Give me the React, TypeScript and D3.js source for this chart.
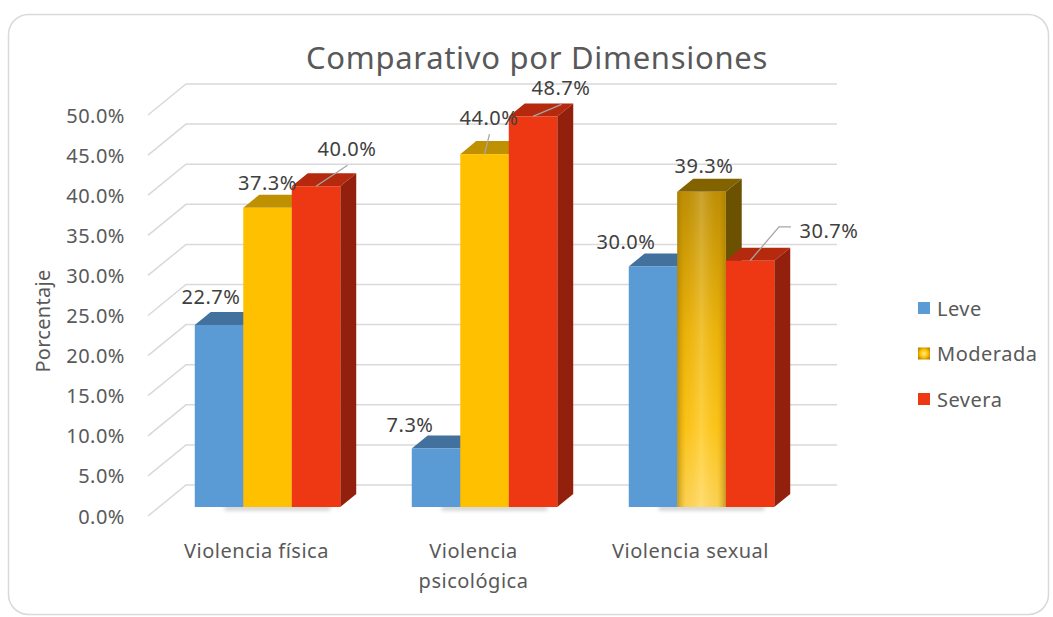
import React from "react";
import * as d3 from "d3";

const categories = ["Violencia física", "Violencia psicológica", "Violencia sexual"];
const categoryLines = [["Violencia física"], ["Violencia", "psicológica"], ["Violencia sexual"]];
const seriesNames = ["Leve", "Moderada", "Severa"];
const leve = [22.7, 7.3, 30.0];
const moderada = [37.3, 44.0, 39.3];
const severa = [40.0, 48.7, 30.7];
const yTicks = [0, 5, 10, 15, 20, 25, 30, 35, 40, 45, 50];

// label placement offsets relative to bar top (layout only)
const leveOffsets = [[-8, -28], [-26, -24], [-27, -25]];
const moderadaOffsets = [[0, -25], [4.5, -37], [2.5, -26]];
const severaOffsets = [[31, -38], [28, -29], [79, -30]];
const leveLeaders = [false, false, false];
const moderadaLeaders = [false, true, false];
const severaLeaders = [true, true, true];

const W = 1053;
const H = 617;
const DX = 38;
const DY = 31;
const Z0 = 0.29;
const Z1 = 0.71;
const BW = 48.5;
const FONT = "'Noto Sans', 'Open Sans', sans-serif";
const TEXT = "#595959";
const FS = 20;
const LS = 0.5;

const seriesStyles = [
  { front: "#5B9BD5", top: "#41719C", side: "#3A6690" },
  { front: "#FFC000", top: "#BF9000", side: "#A67D00" },
  { front: "#EE3814", top: "#B52A0F", side: "#93200C" },
];

export default function App() {
  const x = d3.scaleBand<string>().domain(categories).range([148, 799]).padding(0);
  const y = d3.scaleLinear().domain([0, 50]).range([516, 115]);
  const P = (px: number, v: number, z: number): [number, number] => [px + z * DX, y(v) - z * DY];
  const pts = (arr: [number, number][]) => arr.map((p) => p.join(",")).join(" ");

  const seriesData = [leve, moderada, severa];
  const offsets = [leveOffsets, moderadaOffsets, severaOffsets];
  const leaders = [leveLeaders, moderadaLeaders, severaLeaders];

  const bars: any[] = [];
  const labels: any[] = [];
  const shadows: any[] = [];

  categories.forEach((c, ci) => {
    const gx = (x(c) as number) + x.bandwidth() / 2 - 1.5 * BW;
    const sl = P(gx, 0, Z0);
    shadows.push(
      <rect key={"sh" + ci} x={sl[0] + 30} y={sl[1] - 1} width={BW * 3 - 40} height={4}
        fill="#7f7f7f" opacity={0.45} filter="url(#blur)" />
    );
    seriesData.forEach((vals, si) => {
      const v = vals[ci];
      const x0 = gx + si * BW;
      const st = seriesStyles[si];
      const special = si === 1 && ci === 2;
      const f0 = P(x0, v, Z0);
      const f1 = P(x0 + BW, 0, Z0);
      const top = [P(x0, v, Z0), P(x0 + BW, v, Z0), P(x0 + BW, v, Z1), P(x0, v, Z1)];
      const side = [P(x0 + BW, v, Z0), P(x0 + BW, 0, Z0), P(x0 + BW, 0, Z1), P(x0 + BW, v, Z1)];
      bars.push(
        <g key={`b${ci}-${si}`}>
          <polygon points={pts(top)} fill={special ? "#836300" : st.top} />
          <polygon points={pts(side)} fill={special ? "#6B5100" : st.side} />
          <rect x={f0[0]} y={f0[1]} width={BW} height={f1[1] - f0[1]}
            fill={special ? "url(#goldV)" : st.front} />
          {special && (
            <rect x={f0[0]} y={f0[1]} width={BW} height={f1[1] - f0[1]} fill="url(#goldH)" />
          )}
        </g>
      );
      const ax = f0[0] + BW / 2;
      const ay = f0[1];
      const [ox, oy] = offsets[si][ci];
      const lx = ax + ox;
      const ly = ay + oy;
      const txt = v.toFixed(1) + "%";
      if (leaders[si][ci]) {
        let d: string;
        if (Math.abs(ox) > 50) {
          const left = lx - 30;
          d = `M${ax},${ay} L${left - 20},${ly - 4} L${left - 8},${ly - 4}`;
        } else {
          d = `M${ax},${ay} L${lx + (ox > 0 ? 0.5 : 0)},${ly + 17}`;
        }
        labels.push(<path key={"ld" + ci + si} d={d} fill="none" stroke="#A6A6A6" strokeWidth={1.3} />);
      }
      labels.push(
        <text key={"lt" + ci + si} x={lx} y={ly} textAnchor="middle" dominantBaseline="central"
          fontFamily={FONT} fontSize={FS} letterSpacing={LS} fill="#404040">{txt}</text>
      );
    });
  });

  return (
    <div style={{ position: "fixed", left: 0, top: 0 }}>
      <svg width={W} height={H} style={{ display: "block", background: "#fff" }}>
        <defs>
          <filter id="blur" x="-20%" y="-200%" width="140%" height="500%">
            <feGaussianBlur stdDeviation="2" />
          </filter>
          <linearGradient id="goldV" x1="0" y1="0" x2="0" y2="1">
            <stop offset="0" stopColor="#B88A06" />
            <stop offset="0.45" stopColor="#EDB40B" />
            <stop offset="0.75" stopColor="#FFC71C" />
            <stop offset="1" stopColor="#FFD760" />
          </linearGradient>
          <linearGradient id="goldH" x1="0" y1="0" x2="1" y2="0">
            <stop offset="0" stopColor="#9C7400" stopOpacity={0.6} />
            <stop offset="0.18" stopColor="#E0A800" stopOpacity={0.12} />
            <stop offset="0.5" stopColor="#FFF0B0" stopOpacity={0.25} />
            <stop offset="0.82" stopColor="#E0A800" stopOpacity={0.12} />
            <stop offset="1" stopColor="#9C7400" stopOpacity={0.6} />
          </linearGradient>
          <radialGradient id="goldR" cx="0.5" cy="0.5" r="0.6">
            <stop offset="0" stopColor="#FFEB90" />
            <stop offset="0.55" stopColor="#FFC000" />
            <stop offset="1" stopColor="#B38600" />
          </radialGradient>
        </defs>
        <rect x={8.5} y={14.5} width={1040} height={600} rx={20} fill="#fff" stroke="#D9D9D9" strokeWidth={1.5} />

        {yTicks.map((t) => {
          const a = P(148, t, 0);
          const b = P(148, t, 1);
          const c = P(799, t, 1);
          return (
            <path key={"g" + t} d={`M${a[0]},${a[1]} L${b[0]},${b[1]} L${c[0]},${c[1]}`}
              fill="none" stroke="#D9D9D9" strokeWidth={1.5} />
          );
        })}

        {yTicks.map((t) => (
          <text key={"yt" + t} x={125} y={y(t)} textAnchor="end" dominantBaseline="central"
            fontFamily={FONT} fontSize={FS} letterSpacing={LS} fill={TEXT}>{t.toFixed(1) + "%"}</text>
        ))}

        {shadows}
        {bars}
        {labels}

        {categories.map((c, ci) => (
          <text key={"c" + ci} x={(x(c) as number) + x.bandwidth() / 2} y={550}
            textAnchor="middle" dominantBaseline="central" fontFamily={FONT} fontSize={FS}
            letterSpacing={LS} fill={TEXT}>
            {categoryLines[ci].map((ln, li) => (
              <tspan key={li} x={(x(c) as number) + x.bandwidth() / 2} dy={li === 0 ? 0 : 30}>{ln}</tspan>
            ))}
          </text>
        ))}

        <text x={537} y={57} textAnchor="middle" dominantBaseline="central" fontFamily={FONT}
          fontSize={31} letterSpacing={0.7} fill={TEXT}>Comparativo por Dimensiones</text>

        <text transform={`translate(42,321) rotate(-90)`} textAnchor="middle" dominantBaseline="central"
          fontFamily={FONT} fontSize={FS} letterSpacing={0.3} fill={TEXT}>Porcentaje</text>

        {seriesNames.map((n, i) => {
          const cy = 308 + i * 45.5;
          return (
            <g key={"lg" + i}>
              <rect x={918} y={cy - 6} width={12} height={12}
                fill={i === 1 ? "url(#goldR)" : seriesStyles[i].front} />
              <text x={937} y={cy} dominantBaseline="central" fontFamily={FONT} fontSize={FS}
                letterSpacing={LS} fill={TEXT}>{n}</text>
            </g>
          );
        })}
      </svg>
    </div>
  );
}
